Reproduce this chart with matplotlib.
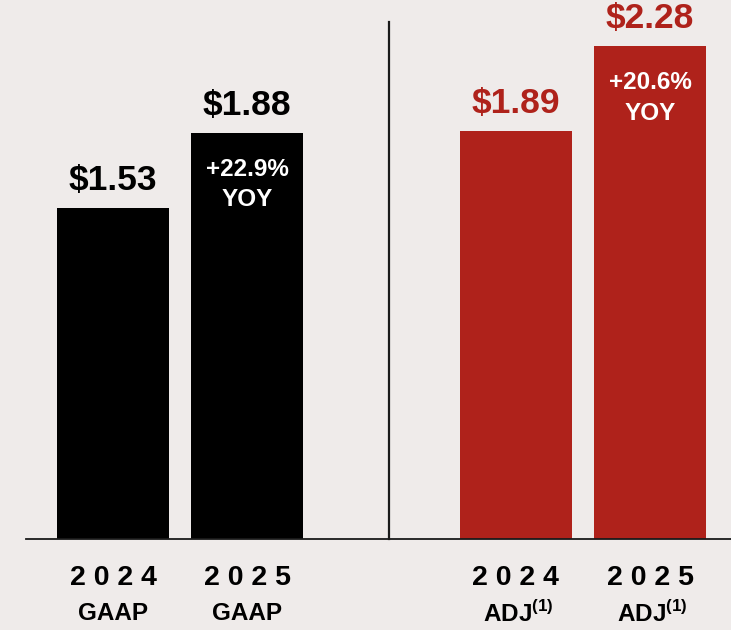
import matplotlib.pyplot as plt

plt.rcParams['font.family'] = ['Liberation Sans', 'DejaVu Sans']
plt.rcParams['mathtext.fontset'] = 'custom'
plt.rcParams['mathtext.bf'] = 'Liberation Sans:bold'
plt.rcParams['mathtext.rm'] = 'Liberation Sans:bold'

years = ["2 0 2 4", "2 0 2 5", "2 0 2 4", "2 0 2 5"]
kinds = ["GAAP", "GAAP", "ADJ$^{\\mathbf{(1)}}$", "ADJ$^{\\mathbf{(1)}}$"]
eps = [1.53, 1.88, 1.89, 2.28]
value_labels = ["$1.53", "$1.88", "$1.89", "$2.28"]
growth = ["", "+22.9%\nYOY", "", "+20.6%\nYOY"]

bg = "#EFEBEA"
red = "#AF221B"
bar_colors = ["black", "black", red, red]
label_colors = ["black", "black", red, red]
xpos = [0, 1, 3, 4]

fig = plt.figure(figsize=(7.31, 6.30), dpi=100, facecolor=bg)
ax = fig.add_axes([0, 0, 1, 1], facecolor=bg)

ax.bar(xpos, eps, width=0.834, color=bar_colors, zorder=2)

for x, v, lab, c, g in zip(xpos, eps, value_labels, label_colors, growth):
    ax.annotate(lab, (x, v), xytext=(0, 8), textcoords="offset points",
                ha="center", va="bottom", fontsize=25.5, fontweight="bold", color=c)
    if g:
        ax.annotate(g, (x, v), xytext=(0, -18), textcoords="offset points",
                    ha="center", va="top", fontsize=17.5, fontweight="bold",
                    color="white", linespacing=1.4)

for x, yr, k in zip(xpos, years, kinds):
    ax.text(x, -0.18, yr, ha="center", va="center", fontsize=20.5, fontweight="bold")
    ax.text(x + (0.02 if "ADJ" in k else 0), -0.345, k, ha="center", va="center",
            fontsize=17.5, fontweight="bold")

# baseline and divider
ax.axhline(0, xmin=26 / 731, xmax=1, color="#1a1a1a", lw=1.3, zorder=3)
ax.plot([2.055, 2.055], [0, 2.394], color="#1a1a1a", lw=1.6, zorder=3)

ax.set_xlim(-0.842, 4.603)
ax.set_ylim(-0.421, 2.495)
ax.axis("off")

fig.savefig("out.png", dpi=100, facecolor=bg)
